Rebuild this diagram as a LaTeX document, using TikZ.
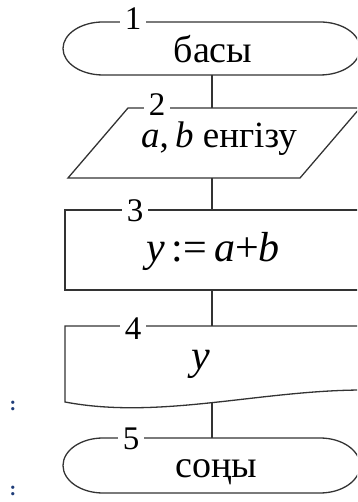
\documentclass[tikz,border=0pt]{standalone}
\usepackage{fontspec}
\setmainfont{Liberation Serif}
\definecolor{linegray}{HTML}{333333}
\definecolor{dotblue}{HTML}{1E3C78}
\begin{document}
\begin{tikzpicture}[x=1pt,y=1pt,
  shapeline/.style={draw=linegray, line width=1.3pt},
  conn/.style={draw=linegray, line width=1.3pt},
  numlbl/.style={fill=white, inner xsep=5pt, inner ysep=0pt, font=\fontsize{33}{33}\selectfont},
  txt/.style={anchor=base, inner sep=0pt, font=\fontsize{38}{38}\selectfont},
  bigtxt/.style={txt, font=\fontsize{42}{42}\selectfont},
  dotmark/.style={inner sep=0pt, text=dotblue, font=\fontsize{20}{20}\selectfont\bfseries}]
\useasboundingbox (0,0) rectangle (357,502);
\clip (0,0) rectangle (357,502);

% block 1: start terminal
\draw[shapeline] (103,480) arc[start angle=90, end angle=270, x radius=40pt, y radius=26.5pt]
  -- (320,427) arc[start angle=-90, end angle=90, x radius=40pt, y radius=26.5pt] -- cycle;
\coordinate (b1s) at (212,427);
\node[txt] (t1) at (213,439) {басы};

% block 2: input parallelogram
\draw[shapeline] (128,394) -- (360,394) -- (300,324) -- (68,324) -- cycle;
\coordinate (b2n) at (212,394);
\coordinate (b2s) at (212,324);
\node[txt, font=\fontsize{37}{37}\selectfont, text height=25pt, text depth=8pt] (t2) at (219,354) {\textit{a},\,\textit{b} енгізу};

% block 3: process
\draw[shapeline] (362,292) -- (65,292) -- (65,212) -- (362,212);
\coordinate (b3n) at (212,292);
\coordinate (b3s) at (212,212);
\node[bigtxt] (t3) at (213,240) {\textit{y}\,:=\,\textit{a}+\textit{b}};

% block 4: output document
\draw[shapeline] (364,176) -- (65,176) -- (65,100)
  .. controls (160,82) and (260,112) .. (364,112);
\coordinate (b4n) at (212,176);
\coordinate (b4s) at (212,99);
\node[bigtxt] (t4) at (201,132) {\textit{y}};

% block 5: end terminal
\draw[shapeline] (103,64) arc[start angle=90, end angle=270, x radius=40pt, y radius=27.5pt]
  -- (320,9) arc[start angle=-90, end angle=90, x radius=40pt, y radius=27.5pt] -- cycle;
\coordinate (b5n) at (212,64);
\node[txt] (t5) at (216,24) {соңы};

% connectors
\draw[conn] (b1s) -- (b2n);
\draw[conn] (b2s) -- (b3n);
\draw[conn] (b3s) -- (b4n);
\draw[conn] (b4s) -- (b5n);

% block numbers
\node[numlbl] (n1) at (133,483) {1};
\node[numlbl] (n2) at (157,397) {2};
\node[numlbl] (n3) at (135,291) {3};
\node[numlbl] (n4) at (133,173) {4};
\node[numlbl] (n5) at (131,63) {5};

% stray marks at left edge
\node[dotmark] (m1) at (13,96) {:};
\node[dotmark] (m2) at (13,11) {:};
\end{tikzpicture}
\end{document}
